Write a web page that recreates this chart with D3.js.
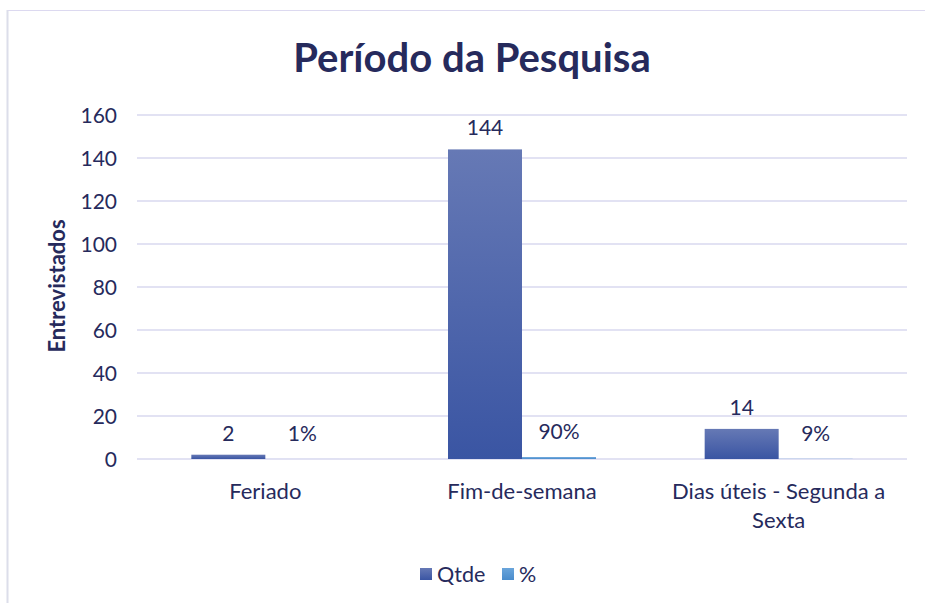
<!DOCTYPE html>
<html><head><meta charset="utf-8">
<script src="https://cdn.jsdelivr.net/npm/d3@7"></script>
<style>body{margin:0;background:#fff;}svg{display:block;}</style>
</head><body>
<svg id="c" width="925" height="603"></svg>
<script>
const categories = [["Feriado"], ["Fim-de-semana"], ["Dias úteis - Segunda a", "Sexta"]];
const qtde = [2, 144, 14];
const pct = [0.01, 0.90, 0.09];
const pctLabels = ["1%", "90%", "9%"];
const yTicks = [0, 20, 40, 60, 80, 100, 120, 140, 160];
const seriesNames = ["Qtde", "%"];

(function(){
const svg = d3.select("#c");
const font = "Lato, 'Open Sans', sans-serif";
const txt = "#262a5c";

const defs = svg.append("defs");
const g1 = defs.append("linearGradient").attr("id","gq").attr("x1",0).attr("y1",0).attr("x2",0).attr("y2",1);
g1.append("stop").attr("offset","0%").attr("stop-color","#6679b5");
g1.append("stop").attr("offset","100%").attr("stop-color","#3a55a3");
const g2 = defs.append("linearGradient").attr("id","gp").attr("x1",0).attr("y1",0).attr("x2",0).attr("y2",1);
g2.append("stop").attr("offset","0%").attr("stop-color","#6aa5db");
g2.append("stop").attr("offset","100%").attr("stop-color","#4a8ccc");

// border
svg.append("line").attr("x1",7).attr("x2",925).attr("y1",10.5).attr("y2",10.5).attr("stroke","#dcd9f0").attr("stroke-width",1.2);
svg.append("line").attr("x1",7.5).attr("x2",7.5).attr("y1",10).attr("y2",603).attr("stroke","#dcdeea").attr("stroke-width",2);

const pLeft = 137, pRight = 907, pTop = 115, pBottom = 459;
const x = d3.scaleBand().domain(d3.range(categories.length)).range([pLeft, pRight]).paddingInner(0).paddingOuter(0);
const y = d3.scaleLinear().domain([0, 160]).range([pBottom, pTop]);

// gridlines
svg.append("g").selectAll("line").data(yTicks).join("line")
  .attr("x1", pLeft).attr("x2", pRight)
  .attr("y1", d => y(d)).attr("y2", d => y(d))
  .attr("stroke", "#d9d9ef").attr("stroke-width", 1.5);

// y axis labels
const yAxis = d3.axisLeft(y).tickValues(yTicks).tickSize(0).tickPadding(0);
const ya = svg.append("g").attr("transform", `translate(117,0)`).call(yAxis);
ya.select(".domain").remove();
ya.selectAll("text").attr("font-family", font).attr("font-size", 21).attr("fill", txt).attr("dy","0.35em");

// bars
const bw = 74;
const bars = svg.append("g");
bars.selectAll("rect.q").data(qtde).join("rect").attr("class","q")
  .attr("x", (d,i) => x(i) + x.bandwidth()/2 - bw)
  .attr("width", bw)
  .attr("y", d => y(d)).attr("height", d => y(0) - y(d))
  .attr("fill", "url(#gq)");
bars.selectAll("rect.p").data(pct).join("rect").attr("class","p")
  .attr("x", (d,i) => x(i) + x.bandwidth()/2)
  .attr("width", bw)
  .attr("y", d => y(d)).attr("height", d => Math.max(0, y(0) - y(d)))
  .attr("fill", "url(#gp)");

// data labels
const lab = svg.append("g").attr("font-family", font).attr("font-size", 21).attr("fill", txt).attr("text-anchor","middle");
lab.selectAll("text.q").data(qtde).join("text").attr("class","q")
  .attr("x", (d,i) => x(i) + x.bandwidth()/2 - bw/2)
  .attr("y", d => y(d) - 14)
  .text(d => d);
lab.selectAll("text.p").data(pct).join("text").attr("class","p")
  .attr("x", (d,i) => x(i) + x.bandwidth()/2 + bw/2)
  .attr("y", d => y(d) - 18)
  .text((d,i) => pctLabels[i]);

// category labels
const cl = svg.append("g").attr("font-family", font).attr("font-size", 22).attr("fill", txt).attr("text-anchor","middle");
categories.forEach((lines, i) => {
  lines.forEach((ln, j) => {
    cl.append("text").attr("x", x(i) + x.bandwidth()/2).attr("y", 499 + j*29).text(ln);
  });
});

// title
svg.append("text").attr("x", 472).attr("y", 72).attr("text-anchor","middle")
  .attr("font-family", font).attr("font-weight","bold").attr("font-size", 40).attr("fill", txt)
  .text("Período da Pesquisa");

// y title
svg.append("text").attr("transform", `translate(65,286) rotate(-90)`).attr("text-anchor","middle")
  .attr("font-family", font).attr("font-weight","bold").attr("font-size", 22).attr("fill", txt)
  .text("Entrevistados");

// legend
const lg = svg.append("g").attr("font-family", font).attr("font-size", 21.5).attr("fill", txt);
const lx = [420, 502];
seriesNames.forEach((n, i) => {
  lg.append("rect").attr("x", lx[i]).attr("y", 568).attr("width", 12).attr("height", 12).attr("fill", i===0 ? "url(#gq)" : "url(#gp)");
  lg.append("text").attr("x", lx[i] + 17).attr("y", 582).text(n);
});
})();
</script>
</body></html>
